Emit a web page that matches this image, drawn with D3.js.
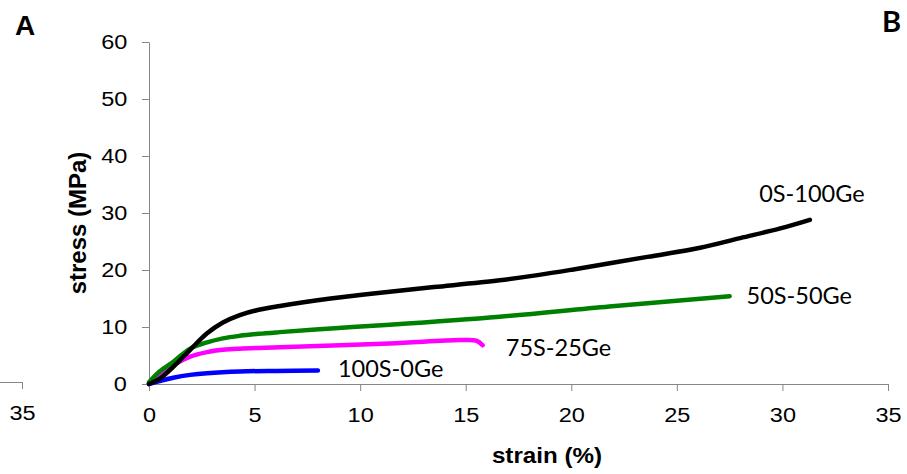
<!DOCTYPE html>
<html>
<head>
<meta charset="utf-8">
<script src="https://cdn.jsdelivr.net/npm/d3@7/dist/d3.min.js"></script>
<style>
    body { margin: 0; background: #fff; }
    .axis path, .axis line { stroke: #868686; stroke-width: 1; }
    .axis text { font-family: "Liberation Sans", Arial, sans-serif; font-size: 21px; fill: #000;
        transform-box: fill-box; transform-origin: center; transform: scaleX(1.12); }
    .title { font-family: "Liberation Sans", Arial, sans-serif; font-weight: bold; fill: #000; }
    .curve { fill: none; stroke-width: 4.5; stroke-linecap: round; stroke-linejoin: round; }
    .tag { font-family: Lato, "Open Sans", sans-serif; font-size: 23.5px; fill: #000; }
</style>
</head>
<body>
<svg id="chart" width="907" height="474"></svg>
<script>
// series: strain (%) and stress (MPa)
var seriesNames = ['100S-0Ge', '75S-25Ge', '50S-50Ge', '0S-100Ge'];
var seriesColors = ['#0000ff', '#ff00ff', '#008000', '#000000'];

var strain100S = [0, 0.5, 1.15, 1.95, 2.75, 4.3, 6.05, 8.0];
var stress100S = [0, 0.5, 1.1, 1.6, 1.9, 2.2, 2.3, 2.35];

var strain75S = [0, 0.5, 1.15, 1.95, 2.75, 3.5, 4.3, 6.2, 11.4, 14.7, 15.5, 15.8];
var stress75S = [0, 1.5, 3.3, 4.8, 5.6, 6.0, 6.2, 6.45, 7.1, 7.7, 7.6, 6.8];

var strain50S = [0, 0.5, 1.15, 1.95, 2.75, 3.5, 4.3, 5.2, 6.2, 8.8, 11.4, 16.6, 21.8, 27.5];
var stress50S = [0.3, 2.2, 3.9, 6.2, 7.3, 8.0, 8.45, 8.8, 9.1, 9.8, 10.4, 11.8, 13.6, 15.4];

var strain0S = [0, 0.5, 1.15, 1.95, 2.75, 3.5, 4.3, 5.1, 6.2, 7.4, 8.6, 11.4, 13.5, 16.6, 18.4, 20.1, 23.6, 26.1, 28.0, 29.9, 31.3];
var stress0S = [0, 0.9, 3.0, 6.0, 8.9, 10.8, 12.1, 12.95, 13.7, 14.4, 15.0, 16.2, 17.0, 18.2, 19.1, 20.1, 22.3, 23.9, 25.6, 27.3, 28.8];

// where each series name sits, in data units (strain, stress of the baseline)
var tagStrain = [8.95, 16.9, 28.3, 28.9];
var tagStress = [1.15, 5.0, 14.1, 32.0];

var xTicks = [0, 5, 10, 15, 20, 25, 30, 35];
var yTicks = [0, 10, 20, 30, 40, 50, 60];

var strains = [strain100S, strain75S, strain50S, strain0S];
var stresses = [stress100S, stress75S, stress50S, stress0S];

var svg = d3.select('#chart');

var x = d3.scaleLinear().domain([0, 35]).range([149, 888]);
var y = d3.scaleLinear().domain([0, 60]).range([384, 42]);

// axes
svg.append('g')
    .classed('axis', true)
    .attr('transform', 'translate(0,384)')
    .call(d3.axisBottom(x).tickValues(xTicks).tickSize(7).tickSizeOuter(0).tickPadding(16));

svg.append('g')
    .classed('axis', true)
    .attr('transform', 'translate(149,0)')
    .call(d3.axisLeft(y).tickValues(yTicks).tickSize(7).tickSizeOuter(0).tickPadding(16));

// tail end of panel A's strain axis, cut off at the left edge
// (clip rect is in the group's own coords, so y is relative to the axis line)
svg.append('clipPath').attr('id', 'cutA')
    .append('rect').attr('x', 0).attr('y', -20).attr('width', 45).attr('height', 80);
var xA = d3.scaleLinear().domain([0, 35]).range([22 - 739, 22]);
svg.append('g')
    .classed('axis', true)
    .attr('clip-path', 'url(#cutA)')
    .attr('transform', 'translate(0,382)')
    .call(d3.axisBottom(xA).tickValues([35]).tickSize(7).tickSizeOuter(0).tickPadding(16));

// curves
var line = d3.line()
    .x(function(d) { return x(d[0]); })
    .y(function(d) { return y(d[1]); })
    .curve(d3.curveCatmullRom.alpha(0.5));

var series = seriesNames.map(function(name, i) {
    return { name: name, color: seriesColors[i], pts: d3.zip(strains[i], stresses[i]) };
});

svg.selectAll('path.curve')
    .data(series)
    .enter()
    .append('path')
    .classed('curve', true)
    .attr('stroke', function(d) { return d.color; })
    .attr('d', function(d) { return line(d.pts); });

svg.selectAll('text.tag')
    .data(series)
    .enter()
    .append('text')
    .classed('tag', true)
    .attr('x', function(d, i) { return x(tagStrain[i]); })
    .attr('y', function(d, i) { return y(tagStress[i]); })
    .text(function(d) { return d.name; });

// axis titles
svg.append('text')
    .classed('title', true)
    .attr('x', 547)
    .attr('y', 463)
    .attr('text-anchor', 'middle')
    .style('font-size', '22px')
    .style('transform-box', 'fill-box')
    .style('transform-origin', 'center')
    .style('transform', 'scaleX(1.1)')
    .text('strain (%)');

svg.append('text')
    .classed('title', true)
    .attr('transform', 'translate(86,223) rotate(-90)')
    .attr('text-anchor', 'middle')
    .style('font-size', '24px')
    .text('stress (MPa)');

// panel letters
svg.append('text')
    .classed('title', true)
    .attr('x', 15)
    .attr('y', 35)
    .style('font-size', '28px')
    .text('A');

svg.append('text')
    .attr('x', 882)
    .attr('y', 32)
    .style('font-family', 'Lato, sans-serif')
    .style('font-weight', 'bold')
    .style('font-size', '29px')
    .text('B');
</script>
</body>
</html>
